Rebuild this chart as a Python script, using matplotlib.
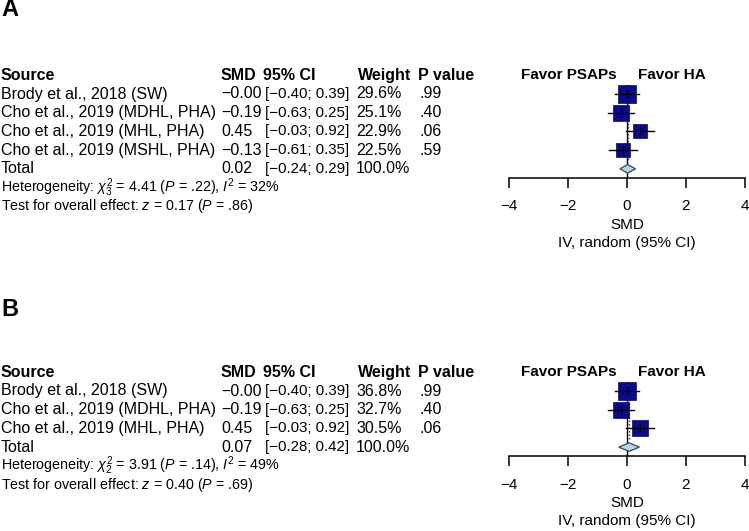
import matplotlib
matplotlib.use("Agg")
import matplotlib.pyplot as plt
from matplotlib.transforms import blended_transform_factory
from matplotlib.patches import Polygon

plt.rcParams['font.family'] = ['Liberation Sans', 'DejaVu Sans']
plt.rcParams['mathtext.fontset'] = 'custom'
plt.rcParams['mathtext.rm'] = 'Liberation Sans'
plt.rcParams['mathtext.it'] = 'Liberation Sans:italic'
plt.rcParams['mathtext.bf'] = 'Liberation Sans:bold'

# ---------------- data ----------------
studies_a = ["Brody et al., 2018 (SW)", "Cho et al., 2019 (MDHL, PHA)",
             "Cho et al., 2019 (MHL, PHA)", "Cho et al., 2019 (MSHL, PHA)"]
smd_a = [-0.00, -0.19, 0.45, -0.13]
smd_txt_a = ["\u22120.00", "\u22120.19", "0.45", "\u22120.13"]
lo_a = [-0.40, -0.63, -0.03, -0.61]
hi_a = [0.39, 0.25, 0.92, 0.35]
w_a = [29.6, 25.1, 22.9, 22.5]
p_a = [".99", ".40", ".06", ".59"]
tot_a = (0.02, -0.24, 0.29)
het_a = r"Heterogeneity: $\chi^2_3$ = 4.41 ($P$ = .22), $I^2$ = 32%"
test_a = r"Test for overall effect: $z$ = 0.17 ($P$ = .86)"

studies_b = ["Brody et al., 2018 (SW)", "Cho et al., 2019 (MDHL, PHA)",
             "Cho et al., 2019 (MHL, PHA)"]
smd_b = [-0.00, -0.19, 0.45]
smd_txt_b = ["\u22120.00", "\u22120.19", "0.45"]
lo_b = [-0.40, -0.63, -0.03]
hi_b = [0.39, 0.25, 0.92]
w_b = [36.8, 32.7, 30.5]
p_b = [".99", ".40", ".06"]
tot_b = (0.07, -0.28, 0.42)
het_b = r"Heterogeneity: $\chi^2_2$ = 3.91 ($P$ = .14), $I^2$ = 49%"
test_b = r"Test for overall effect: $z$ = 0.40 ($P$ = .69)"

xticks = [-4, -2, 0, 2, 4]

W, H = 749, 531
fig = plt.figure(figsize=(W / 100, H / 100), dpi=100)

def fx(x):
    return x / W

def fy(y):
    return 1 - y / H

FS = 11.5
FSCI = 10.8
FSA = 11
FS2 = 10.3
ROW = 18.7

def fmt(v):
    return f"{v:.2f}".replace("-", "\u2212")

def panel(label, label_y, row0, studies, smd, smd_txt, lo, hi, w, p, tot, het, test):
    n = len(studies)
    top = row0 - 0.5 * ROW
    bot = row0 + (n + 0.5) * ROW
    ax = fig.add_axes([fx(509), fy(bot), fx(745) - fx(509), (bot - top) / H])
    ax.set_xlim(-4, 4)
    ax.set_ylim(n + 0.5, -0.5)
    for s in ["left", "top", "right"]:
        ax.spines[s].set_visible(False)
    ax.spines["bottom"].set_linewidth(1.1)
    ax.set_yticks([])
    ax.set_xticks(xticks)
    ax.tick_params(axis="x", direction="out", length=7.2, width=1.1, pad=8,
                   labelsize=FSA)
    ax.patch.set_alpha(0)

    # reference lines
    ax.plot([0, 0], [-0.5, n + 0.5], color="black", lw=1.0, zorder=1)
    ax.plot([tot[0], tot[0]], [-0.5, n - 0.45], color="#333333", lw=1.0,
            ls=(0, (1, 1.5)), zorder=1)

    mw = max(w)
    for i in range(n):
        ax.plot([lo[i], hi[i]], [i, i], color="black", lw=1.0, zorder=3)
        side = 18.5 * w[i] / mw
        ax.plot([smd[i]], [i], marker="s", ms=side * 0.72, color="#0a0a8c",
                mec="#06065e", mew=0.5, zorder=2)
        ax.plot([smd[i]], [i], marker="|", ms=6, color="black", mew=1.0,
                zorder=4)
    d = Polygon([[tot[1], n], [tot[0], n - 0.23], [tot[2], n],
                 [tot[0], n + 0.23]], closed=True, facecolor="#add8e6",
                edgecolor="#3a4a50", lw=0.9, zorder=3)
    ax.add_patch(d)

    tr = blended_transform_factory(fig.transFigure, ax.transData)
    hy = -1
    kw = dict(transform=tr, va="center", fontsize=FS)
    kwc = dict(transform=tr, va="center", fontsize=FSCI)
    ax.text(fx(1), hy, "Source", fontweight="bold", **kw)
    ax.text(fx(221), hy, "SMD", fontweight="bold", **kw)
    ax.text(fx(263), hy, "95% CI", fontweight="bold", **kw)
    ax.text(fx(358), hy, "Weight", fontweight="bold", **kw)
    ax.text(fx(418), hy, "P value", fontweight="bold", **kw)
    kwf = dict(transform=tr, va="center", fontsize=11, fontweight="bold")
    ax.text(fx(617), hy, "Favor PSAPs", ha="right", **kwf)
    ax.text(fx(638), hy, "Favor HA", ha="left", **kwf)

    for i in range(n):
        ax.text(fx(1), i, studies[i], **kw)
        ax.text(fx(221), i, smd_txt[i], **kw)
        ax.text(fx(265), i, f"[{fmt(lo[i])}; {fmt(hi[i])}]", **kwc)
        ax.text(fx(356), i, f"{w[i]:.1f}%", **kw)
        ax.text(fx(420), i, p[i], **kw)
    ax.text(fx(1), n, "Total", **kw)
    ax.text(fx(221), n, fmt(tot[0]), **kw)
    ax.text(fx(265), n, f"[{fmt(tot[1])}; {fmt(tot[2])}]", **kwc)
    ax.text(fx(356), n, "100.0%", **kw)

    kw2 = dict(transform=tr, va="center", fontsize=FS2)
    ax.text(fx(1), n + 1.0, het, **kw2)
    ax.text(fx(1), n + 2.0, test, **kw2)

    base = bot
    fig.text(fx(627), fy(base + 47), "SMD", ha="center", va="center",
             fontsize=FSA)
    fig.text(fx(627), fy(base + 65), "IV, random (95% CI)", ha="center",
             va="center", fontsize=FSA)

    fig.text(fx(1), fy(label_y), label, fontsize=17, fontweight="bold",
             va="center", ha="left")

panel("A", 10, 94, studies_a, smd_a, smd_txt_a, lo_a, hi_a, w_a, p_a, tot_a, het_a, test_a)
panel("B", 310, 391, studies_b, smd_b, smd_txt_b, lo_b, hi_b, w_b, p_b, tot_b, het_b, test_b)

fig.savefig("out.png", dpi=100)
